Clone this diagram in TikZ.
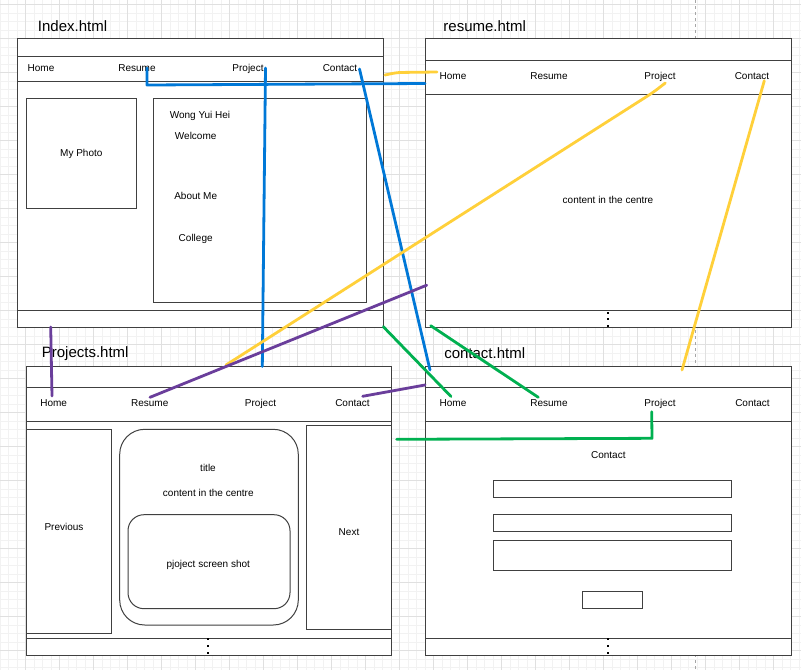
\documentclass[tikz,border=0pt]{standalone}
\usepackage{fontspec}
\setmainfont{Liberation Sans}
\definecolor{wblue}{RGB}{0,120,215}
\definecolor{wyellow}{RGB}{255,208,58}
\definecolor{wpurple}{RGB}{106,62,155}
\definecolor{wgreen}{RGB}{0,176,80}
\begin{document}
\begin{tikzpicture}[x=1pt,y=-1pt,
  frame/.style={draw=black!75,line width=1pt,fill=white,inner sep=0pt},
  part/.style={draw=black!75,line width=1pt},
  lbl/.style={inner sep=0pt,anchor=base,font=\fontsize{10}{12}\selectfont},
  ttl/.style={inner sep=0pt,anchor=base,font=\fontsize{15}{18}\selectfont},
  wire/.style={line width=2.8pt,line cap=round,line join=round},
  dotmark/.style={fill=black,minimum size=2pt,inner sep=0pt,draw=none,rectangle},
  minorgrid/.style={draw=black!5,line width=0.6pt},
  majorgrid/.style={draw=black!12,line width=0.8pt}
]
\useasboundingbox (0,0) rectangle (801,670);
% background grid
\begin{scope}
\clip (0,0) rectangle (801,670);
\fill[white] (0,0) rectangle (801,670);
\foreach \i in {0,...,95} \draw[minorgrid] ({-0.2+8.5*\i},0) -- ++(0,670);
\foreach \i in {0,...,79} \draw[minorgrid] (0,{4.3+8.5*\i}) -- ++(801,0);
\foreach \i in {0,...,24} \draw[majorgrid] ({-8.7+34*\i},0) -- ++(0,670);
\foreach \i in {0,...,20} \draw[majorgrid] (0,{4.3+34*\i}) -- ++(801,0);
\draw[black!35,dashed,line width=0.8pt] (695.7,0) -- (695.7,670);
\end{scope}

% ---------- Index.html ----------
\node[ttl] (tIdx) at (72.5,31.7) {Index.html};
\node[frame,minimum width=366pt,minimum height=289pt] (idx) at (200,182.5) {};
\draw[part] (17,56) -- (383,56);
\draw[part] (17,81) -- (383,81);
\draw[part] (17,310.7) -- (383,310.7);
\node[lbl] (iHome) at (41,71.3) {Home};
\node[lbl] (iRes) at (137,71.3) {Resume};
\node[lbl] (iProj) at (248,71.3) {Project};
\node[lbl] (iCon) at (340,71.3) {Contact};
\node[frame,minimum width=110.7pt,minimum height=110.7pt] (iPhoto) at (81.35,153.35) {};
\node[lbl] (iPhotoT) at (81.3,156.3) {My Photo};
\node[frame,minimum width=212.6pt,minimum height=204.3pt] (iInfo) at (260,200.15) {};
\node[lbl] (iName) at (200,118.5) {Wong Yui Hei};
\node[lbl] (iWel) at (195.7,139.3) {Welcome};
\node[lbl] (iAbout) at (195.7,199.3) {About Me};
\node[lbl] (iCol) at (195.7,241.3) {College};

% ---------- resume.html ----------
\node[ttl] (tRes) at (484.7,31) {resume.html};
\node[frame,minimum width=366.2pt,minimum height=289.5pt] (res) at (608.4,182.75) {};
\draw[part] (425.3,60) -- (791.5,60);
\draw[part] (425.3,94) -- (791.5,94);
\draw[part] (425.3,310.7) -- (791.5,310.7);
\node[lbl] (rHome) at (453,79.3) {Home};
\node[lbl] (rRes) at (549,79.3) {Resume};
\node[lbl] (rProj) at (660,79.3) {Project};
\node[lbl] (rCon) at (752,79.3) {Contact};
\node[lbl] (rCent) at (608,203.3) {content in the centre};
\foreach \k in {0,1,2} \node[dotmark] at (608,{312.7+6.6*\k}) {};

% ---------- Projects.html ----------
\node[ttl] (tProj) at (85.2,357.5) {Projects.html};
\node[frame,minimum width=365.7pt,minimum height=289pt] (prj) at (208.85,510.5) {};
\draw[part] (26,387.3) -- (391.7,387.3);
\draw[part] (26,421.3) -- (391.7,421.3);
\draw[part] (26,638) -- (391.7,638);
\node[lbl] (pHome) at (53.7,406.3) {Home};
\node[lbl] (pRes) at (149.7,406.3) {Resume};
\node[lbl] (pProj) at (260.5,406.3) {Project};
\node[lbl] (pCon) at (352.5,406.3) {Contact};
\node[frame,minimum width=85pt,minimum height=204pt] (pPrev) at (68.5,531.3) {};
\node[lbl] (pPrevT) at (64,530.3) {Previous};
\node[frame,minimum width=85pt,minimum height=204pt] (pNext) at (349.2,527.3) {};
\node[lbl] (pNextT) at (349,535) {Next};
\node[frame,rounded corners=25pt,minimum width=178.6pt,minimum height=195.7pt] (pMain) at (209,527.15) {};
\node[lbl] (pTitle) at (208,471.3) {title};
\node[lbl] (pCent) at (208.3,496) {content in the centre};
\node[frame,rounded corners=16pt,minimum width=162pt,minimum height=94pt] (pShot) at (209,561.7) {};
\node[lbl] (pShotT) at (208.3,567.3) {pjoject screen shot};
\foreach \k in {0,1,2} \node[dotmark] at (208,{639.3+6.6*\k}) {};

% ---------- contact.html ----------
\node[ttl] (tCon) at (484.7,358) {contact.html};
\node[frame,minimum width=365.3pt,minimum height=288.7pt] (con) at (608.35,510.65) {};
\draw[part] (425.7,387.3) -- (791,387.3);
\draw[part] (425.7,421.3) -- (791,421.3);
\draw[part] (425.7,638) -- (791,638);
\node[lbl] (cHome) at (453,406.3) {Home};
\node[lbl] (cRes) at (549,406.3) {Resume};
\node[lbl] (cProj) at (660,406.3) {Project};
\node[lbl] (cCon) at (752.5,406.3) {Contact};
\node[lbl] (cHead) at (608.3,458) {Contact};
\node[frame,minimum width=238.4pt,minimum height=17.4pt] (cIn1) at (612.5,489) {};
\node[frame,minimum width=238.4pt,minimum height=17pt] (cIn2) at (612.5,523.2) {};
\node[frame,minimum width=238.4pt,minimum height=29.7pt] (cIn3) at (612.5,555.15) {};
\node[frame,minimum width=60.4pt,minimum height=17.3pt] (cBtn) at (612.5,599.65) {};
\foreach \k in {0,1,2} \node[dotmark] at (608,{639.3+6.6*\k}) {};

% ---------- connector end points ----------
\coordinate (b1a) at (147,68);   \coordinate (b1b) at (147,85);   \coordinate (b1c) at (425,83.5);
\coordinate (b2a) at (265.5,68); \coordinate (b2b) at (262.3,366.5);
\coordinate (b3a) at (359.5,69); \coordinate (b3b) at (430,370);
\coordinate (y1a) at (385,75);   \coordinate (y1b) at (397,72.5); \coordinate (y1c) at (437,72);
\coordinate (y2a) at (665.3,83); \coordinate (y2b) at (653,92.5); \coordinate (y2c) at (226,365);
\coordinate (y3a) at (764.3,80.7); \coordinate (y3b) at (682,370);
\coordinate (p1a) at (50.7,327); \coordinate (p1b) at (52,396);
\coordinate (p2a) at (150,397.3); \coordinate (p2b) at (426.7,285.2);
\coordinate (p3a) at (362.7,396.3); \coordinate (p3b) at (425,385);
\coordinate (g1a) at (383.3,326.7); \coordinate (g1b) at (451,396.5);
\coordinate (g2a) at (430.7,325.7); \coordinate (g2b) at (538.3,397.3);
\coordinate (g3a) at (651.7,411.7); \coordinate (g3b) at (652,438.3); \coordinate (g3c) at (396.7,439.3);

% ---------- connectors ----------
\draw[wire,wblue] (b1a) -- (b1b) -- (b1c);
\draw[wire,wblue] (b2a) -- (b2b);
\draw[wire,wblue] (b3a) -- (b3b);
\draw[wire,wyellow,rounded corners=4pt] (y1a) -- (y1b) -- (y1c);
\draw[wire,wyellow,rounded corners=6pt] (y2a) -- (y2b) -- (y2c);
\draw[wire,wyellow] (y3a) -- (y3b);
\draw[wire,wpurple] (p1a) -- (p1b);
\draw[wire,wpurple] (p2a) -- (p2b);
\draw[wire,wpurple] (p3a) -- (p3b);
\draw[wire,wgreen] (g1a) -- (g1b);
\draw[wire,wgreen] (g2a) -- (g2b);
\draw[wire,wgreen] (g3a) -- (g3b) -- (g3c);
\end{tikzpicture}
\end{document}
